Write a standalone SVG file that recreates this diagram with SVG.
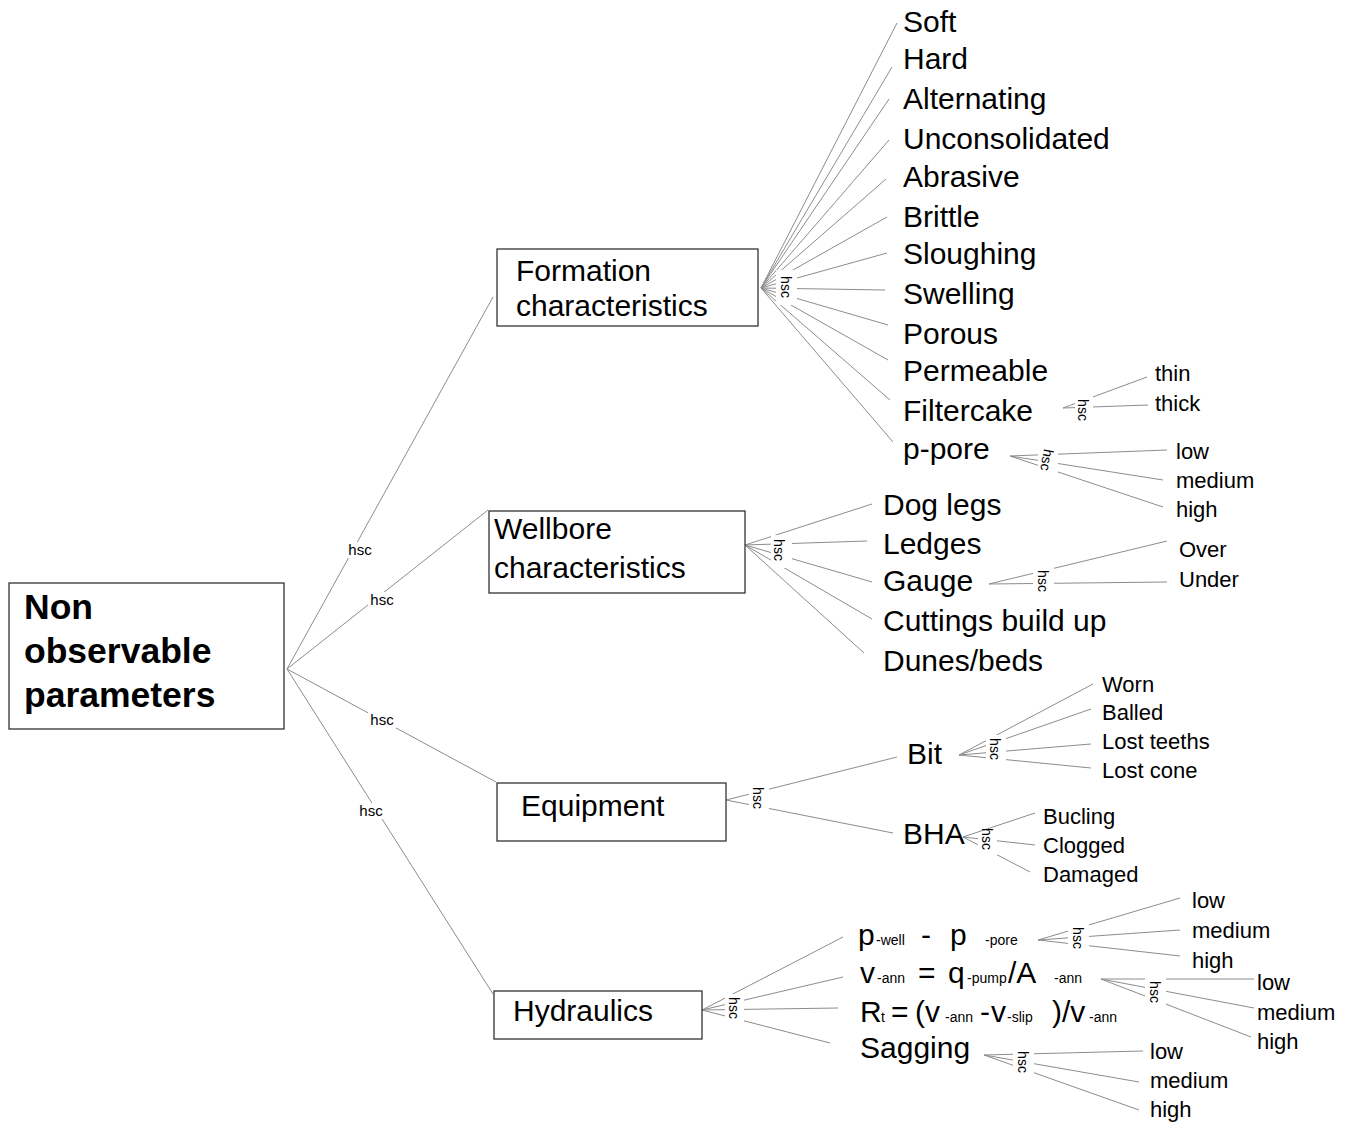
<svg xmlns="http://www.w3.org/2000/svg" width="1350" height="1124" viewBox="0 0 1350 1124">
<style>
.ln{stroke:#8c8c8c;stroke-width:1;fill:none}
.box{fill:#fff;stroke:#333;stroke-width:1.3}
.bg{fill:#fff}
text{font-family:"Liberation Sans",Arial,sans-serif;fill:#000}
.t30{font-size:30px}
.t22{font-size:22px}
.t14{font-size:14px}
.root{font-size:35.5px;font-weight:bold}
.h15{font-size:15px;text-anchor:middle}
.hr{font-size:14px;text-anchor:middle}
</style>
<rect width="1350" height="1124" fill="#fff"/>
<g id="connectors">
<path class="ln" d="M287,669L493,297M287,669L488,510M287,669L496,782M287,669L493,994"/>
<path class="ln" d="M761,288L897,23M761,288L892,67M761,288L889,99M761,288L889,140M761,288L886,179M761,288L887,217M761,288L887,253M761,288L885,290M761,288L888,325M761,288L888,360M761,288L890,400M761,288L893,442"/>
<path class="ln" d="M1063,408L1147,377M1063,408L1148,405"/>
<path class="ln" d="M1010,456L1167,450M1010,456L1163,480M1010,456L1163,507"/>
<path class="ln" d="M745,545L872,504M745,545L867,541M745,545L872,582M745,545L872,619M745,545L864,653"/>
<path class="ln" d="M989,584L1167,541M989,584L1167,582"/>
<path class="ln" d="M726,800L897,757M726,800L893,833"/>
<path class="ln" d="M959,755L1093,684M959,755L1091,709M959,755L1091,744M959,755L1091,768"/>
<path class="ln" d="M963,837L1035,813M963,837L1035,845M963,837L1030,872"/>
<path class="ln" d="M702,1010L843,937M702,1010L843,977M702,1010L838,1008M702,1010L830,1043"/>
<path class="ln" d="M1038,940L1180,898M1038,940L1180,930M1038,940L1180,956"/>
<path class="ln" d="M1101,979L1254,979M1101,979L1254,1008M1101,979L1251,1037"/>
<path class="ln" d="M984,1055L1143,1051M984,1055L1139,1082M984,1055L1139,1110"/>
<g id="labels">
<rect class="bg" x="346" y="542" width="28" height="16"/><text class="h15" x="360" y="555">hsc</text>
<rect class="bg" x="368" y="592" width="28" height="16"/><text class="h15" x="382" y="605">hsc</text>
<rect class="bg" x="368" y="712" width="28" height="16"/><text class="h15" x="382" y="725">hsc</text>
<rect class="bg" x="357" y="803" width="28" height="16"/><text class="h15" x="371" y="816">hsc</text>
<rect class="bg" x="776" y="270" width="21" height="35"/><text class="hr" transform="translate(786,287) rotate(90)" dy="5">hsc</text>
<rect class="bg" x="771" y="535" width="21" height="33"/><text class="hr" transform="translate(779,550) rotate(90)" dy="5">hsc</text>
<rect class="bg" x="1033" y="566" width="21" height="30"/><text class="hr" transform="translate(1043,581) rotate(90)" dy="5">hsc</text>
<rect class="bg" x="749" y="783" width="20" height="29"/><text class="hr" transform="translate(758,798) rotate(90)" dy="5">hsc</text>
<rect class="bg" x="986" y="735" width="20" height="29"/><text class="hr" transform="translate(995,749) rotate(90)" dy="5">hsc</text>
<rect class="bg" x="978" y="833" width="19" height="23"/><text class="hr" transform="translate(987,839) rotate(90)" dy="5">hsc</text>
<rect class="bg" x="1075" y="396" width="18" height="28"/><text class="hr" transform="translate(1083,410) rotate(90)" dy="5">hsc</text>
<rect class="bg" x="1038" y="446" width="20" height="28"/><text class="hr" transform="translate(1047,460) rotate(100)" dy="5">hsc</text>
<rect class="bg" x="725" y="994" width="19" height="28"/><text class="hr" transform="translate(734,1008) rotate(90)" dy="5">hsc</text>
<rect class="bg" x="1068" y="924" width="21" height="29"/><text class="hr" transform="translate(1078,938) rotate(90)" dy="5">hsc</text>
<rect class="bg" x="1145" y="978" width="21" height="28"/><text class="hr" transform="translate(1155,992) rotate(90)" dy="5">hsc</text>
<rect class="bg" x="1013" y="1049" width="21" height="28"/><text class="hr" transform="translate(1023,1062) rotate(90)" dy="5">hsc</text>
</g>
</g>
<g id="root"><rect class="box" x="9" y="583" width="275" height="146"/><text class="root" x="24" y="619">Non</text><text class="root" x="24" y="663">observable</text><text class="root" x="24" y="707">parameters</text></g>
<g id="formation"><rect class="box" x="497" y="249" width="261" height="77"/><text class="t30" x="516" y="281">Formation</text><text class="t30" x="516" y="316">characteristics</text></g>
<g id="wellbore"><rect class="box" x="489" y="511" width="256" height="82"/><text class="t30" x="494" y="539">Wellbore</text><text class="t30" x="494" y="578">characteristics</text></g>
<g id="equipment"><rect class="box" x="497" y="783" width="229" height="58"/><text class="t30" x="521" y="816">Equipment</text></g>
<g id="hydraulics"><rect class="box" x="494" y="991" width="208" height="48"/><text class="t30" x="513" y="1021">Hydraulics</text></g>
<g id="soft"><text class="t30" x="903" y="32">Soft</text></g>
<g id="hard"><text class="t30" x="903" y="69">Hard</text></g>
<g id="alternating"><text class="t30" x="903" y="109">Alternating</text></g>
<g id="unconsolidated"><text class="t30" x="903" y="149">Unconsolidated</text></g>
<g id="abrasive"><text class="t30" x="903" y="187">Abrasive</text></g>
<g id="brittle"><text class="t30" x="903" y="227">Brittle</text></g>
<g id="sloughing"><text class="t30" x="903" y="264">Sloughing</text></g>
<g id="swelling"><text class="t30" x="903" y="304">Swelling</text></g>
<g id="porous"><text class="t30" x="903" y="344">Porous</text></g>
<g id="permeable"><text class="t30" x="903" y="381">Permeable</text></g>
<g id="filtercake"><text class="t30" x="903" y="421">Filtercake</text></g>
<g id="ppore"><text class="t30" x="903" y="459">p-pore</text></g>
<g id="thin"><text class="t22" x="1155" y="381">thin</text></g>
<g id="thick"><text class="t22" x="1155" y="411">thick</text></g>
<g id="ppore-low"><text class="t22" x="1176" y="459">low</text></g>
<g id="ppore-medium"><text class="t22" x="1176" y="488">medium</text></g>
<g id="ppore-high"><text class="t22" x="1176" y="517">high</text></g>
<g id="doglegs"><text class="t30" x="883" y="515">Dog legs</text></g>
<g id="ledges"><text class="t30" x="883" y="554">Ledges</text></g>
<g id="gauge"><text class="t30" x="883" y="591">Gauge</text></g>
<g id="cuttings"><text class="t30" x="883" y="631">Cuttings build up</text></g>
<g id="dunes"><text class="t30" x="883" y="671">Dunes/beds</text></g>
<g id="over"><text class="t22" x="1179" y="557">Over</text></g>
<g id="under"><text class="t22" x="1179" y="587">Under</text></g>
<g id="bit"><text class="t30" x="907" y="764">Bit</text></g>
<g id="bha"><text class="t30" x="903" y="844">BHA</text></g>
<g id="worn"><text class="t22" x="1102" y="692">Worn</text></g>
<g id="balled"><text class="t22" x="1102" y="720">Balled</text></g>
<g id="lostteeths"><text class="t22" x="1102" y="749">Lost teeths</text></g>
<g id="lostcone"><text class="t22" x="1102" y="778">Lost cone</text></g>
<g id="bucling"><text class="t22" x="1043" y="824">Bucling</text></g>
<g id="clogged"><text class="t22" x="1043" y="853">Clogged</text></g>
<g id="damaged"><text class="t22" x="1043" y="882">Damaged</text></g>
<g id="pwell"><text class="t30" y="945"><tspan x="858">p</tspan><tspan x="876" class="t14">-well</tspan><tspan x="921">-</tspan><tspan x="950">p</tspan><tspan x="985" class="t14">-pore</tspan></text></g>
<g id="vann"><text class="t30" y="983"><tspan x="860">v</tspan><tspan x="877" class="t14">-ann</tspan><tspan x="918">=</tspan><tspan x="948">q</tspan><tspan x="967" class="t14">-pump</tspan><tspan x="1008">/A</tspan><tspan x="1054" class="t14">-ann</tspan></text></g>
<g id="rt"><text class="t30" y="1022"><tspan x="860">R</tspan><tspan x="881" class="t14">t</tspan><tspan x="891">=</tspan><tspan x="915">(</tspan><tspan x="925">v</tspan><tspan x="945" class="t14">-ann</tspan><tspan x="980">-</tspan><tspan x="991">v</tspan><tspan x="1007" class="t14">-slip</tspan><tspan x="1052">)/v</tspan><tspan x="1089" class="t14">-ann</tspan></text></g>
<g id="sagging"><text class="t30" x="860" y="1058">Sagging</text></g>
<g id="pwell-low"><text class="t22" x="1192" y="908">low</text></g>
<g id="pwell-medium"><text class="t22" x="1192" y="938">medium</text></g>
<g id="pwell-high"><text class="t22" x="1192" y="968">high</text></g>
<g id="vann-low"><text class="t22" x="1257" y="990">low</text></g>
<g id="vann-medium"><text class="t22" x="1257" y="1020">medium</text></g>
<g id="vann-high"><text class="t22" x="1257" y="1049">high</text></g>
<g id="sag-low"><text class="t22" x="1150" y="1059">low</text></g>
<g id="sag-medium"><text class="t22" x="1150" y="1088">medium</text></g>
<g id="sag-high"><text class="t22" x="1150" y="1117">high</text></g>
</svg>
